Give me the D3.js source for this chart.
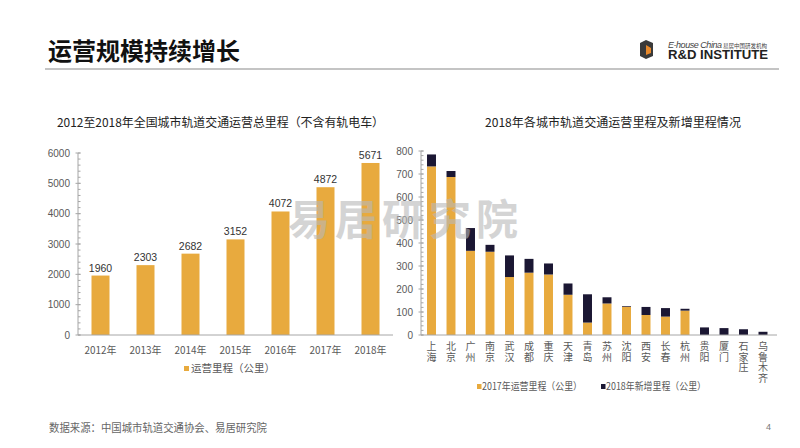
<!DOCTYPE html>
<html>
<head>
<meta charset="utf-8">
<script src="https://cdn.jsdelivr.net/npm/d3@7"></script>
<style>
  body { margin: 0; background: #fff; }
  text { font-family: "Liberation Sans", "Noto Sans CJK SC", sans-serif; }
  .cjk { font-family: "Noto Sans CJK SC", sans-serif; }
</style>
</head>
<body>
<div class="chart"></div>
<script>
// left chart data
var years = ["2012年", "2013年", "2014年", "2015年", "2016年", "2017年", "2018年"];
var totalKm = [1960, 2303, 2682, 3152, 4072, 4872, 5671];
var leftTicks = [0, 1000, 2000, 3000, 4000, 5000, 6000];

// right chart data
var cities = ["上海", "北京", "广州", "南京", "武汉", "成都", "重庆", "天津", "青岛",
  "苏州", "沈阳", "西安", "长春", "杭州", "贵阳", "厦门", "石家庄", "乌鲁木齐"];
var km2017 = [733, 687, 366, 362, 252, 271, 263, 175, 54, 137, 123, 87, 80, 106, 0, 0, 0, 0];
var kmNew2018 = [52, 26, 99, 30, 94, 60, 48, 49, 123, 27, 3, 35, 37, 8, 33, 30, 25, 14];
var rightTicks = [0, 100, 200, 300, 400, 500, 600, 700, 800];

var gold = "#e8aa3e";
var navy = "#1b1733";
var axisGray = "#a6a6a6";
var labelGray = "#595959";

var svg = d3.select(".chart")
  .append("svg")
  .attr("width", 800)
  .attr("height", 448);

// header
svg.append("text")
  .attr("class", "cjk")
  .attr("x", 48)
  .attr("y", 60)
  .attr("font-size", 24)
  .attr("font-weight", "bold")
  .attr("fill", "#111")
  .text("运营规模持续增长");

svg.append("line")
  .attr("x1", 45).attr("x2", 779)
  .attr("y1", 69).attr("y2", 69)
  .attr("stroke", "#b0b0b0")
  .attr("stroke-width", 1.5);

// logo
var logo = svg.append("g").attr("transform", "translate(640,40)");
logo.append("path")
  .attr("d", "M6,0 L13,3 L13,16 L6,19 L0,16 L0,3 Z")
  .attr("fill", "#3a3a3a");
logo.append("path")
  .attr("d", "M6,5 L11,8 L11,13 L6,15 Z")
  .attr("fill", "#e8892b");
logo.append("text")
  .attr("x", 28).attr("y", 8)
  .attr("font-size", 9)
  .attr("font-style", "italic")
  .attr("fill", "#444")
  .attr("textLength", 54)
  .text("E-house China");
logo.append("text")
  .attr("class", "cjk")
  .attr("x", 83).attr("y", 8)
  .attr("font-size", 5.5)
  .attr("fill", "#444")
  .text("易居中国研发机构");
logo.append("text")
  .attr("x", 28).attr("y", 19)
  .attr("font-size", 12)
  .attr("font-weight", "bold")
  .attr("fill", "#222")
  .attr("textLength", 100)
  .attr("lengthAdjust", "spacingAndGlyphs")
  .text("R&D INSTITUTE");

// subtitles
svg.append("text")
  .attr("class", "cjk")
  .attr("x", 57).attr("y", 127)
  .attr("font-size", 12)
  .attr("fill", "#222")
  .attr("textLength", 327)
  .attr("lengthAdjust", "spacingAndGlyphs")
  .text("2012至2018年全国城市轨道交通运营总里程（不含有轨电车）");

svg.append("text")
  .attr("class", "cjk")
  .attr("x", 485).attr("y", 127)
  .attr("font-size", 12)
  .attr("fill", "#222")
  .attr("textLength", 256)
  .attr("lengthAdjust", "spacingAndGlyphs")
  .text("2018年各城市轨道交通运营里程及新增里程情况");

// helper: y axis with minor ticks
function drawYAxis(g, yScale, ticks, x0) {
  var step = ticks[1] - ticks[0];
  var minor = d3.range(ticks[0], ticks[ticks.length - 1] + 1, step / 5);
  g.append("line")
    .attr("x1", x0).attr("x2", x0)
    .attr("y1", yScale(ticks[0])).attr("y2", yScale(ticks[ticks.length - 1]))
    .attr("stroke", axisGray);
  g.selectAll(".minor")
    .data(minor)
    .enter().append("line")
    .attr("x1", x0).attr("x2", x0 + 2.5)
    .attr("y1", d => yScale(d)).attr("y2", d => yScale(d))
    .attr("stroke", axisGray);
  g.selectAll(".major")
    .data(ticks)
    .enter().append("line")
    .attr("x1", x0 - 2.5).attr("x2", x0 + 2.5)
    .attr("y1", d => yScale(d)).attr("y2", d => yScale(d))
    .attr("stroke", axisGray);
  g.selectAll(".tlabel")
    .data(ticks)
    .enter().append("text")
    .attr("x", x0 - 8)
    .attr("y", d => yScale(d) + 3.5)
    .attr("text-anchor", "end")
    .attr("font-size", 10)
    .attr("fill", labelGray)
    .text(d => d);
}

// ---- left chart ----
var xLeft = d3.scaleBand()
  .domain(years)
  .range([78, 393])
  .paddingInner(0.6)
  .paddingOuter(0.3);

var yLeft = d3.scaleLinear()
  .domain([0, 6000])
  .range([335, 153]);

var leftG = svg.append("g");

leftG.selectAll(".bar")
  .data(years)
  .enter().append("rect")
  .attr("x", d => xLeft(d))
  .attr("y", (d, i) => yLeft(totalKm[i]))
  .attr("width", xLeft.bandwidth())
  .attr("height", (d, i) => yLeft(0) - yLeft(totalKm[i]))
  .attr("fill", gold);

leftG.selectAll(".val")
  .data(years)
  .enter().append("text")
  .attr("x", d => xLeft(d) + xLeft.bandwidth() / 2)
  .attr("y", (d, i) => yLeft(totalKm[i]) - 4)
  .attr("text-anchor", "middle")
  .attr("font-size", 10.5)
  .attr("fill", "#333")
  .text((d, i) => totalKm[i]);

leftG.append("line")
  .attr("x1", 78).attr("x2", 393)
  .attr("y1", yLeft(0)).attr("y2", yLeft(0))
  .attr("stroke", axisGray);

drawYAxis(leftG, yLeft, leftTicks, 78);

leftG.selectAll(".xl")
  .data(years)
  .enter().append("text")
  .attr("class", "cjk")
  .attr("x", d => xLeft(d) + xLeft.bandwidth() / 2)
  .attr("y", 354)
  .attr("text-anchor", "middle")
  .attr("font-size", 10.5)
  .attr("fill", labelGray)
  .attr("textLength", 32)
  .attr("lengthAdjust", "spacingAndGlyphs")
  .text(d => d);

leftG.append("rect")
  .attr("x", 184).attr("y", 366)
  .attr("width", 5).attr("height", 5)
  .attr("fill", gold);
leftG.append("text")
  .attr("class", "cjk")
  .attr("x", 191).attr("y", 372)
  .attr("font-size", 10.5)
  .attr("fill", labelGray)
  .text("运营里程（公里）");

// ---- right chart ----
var xRight = d3.scaleBand()
  .domain(cities)
  .range([421.75, 772.75])
  .paddingInner(0.54)
  .paddingOuter(0.27);

var yRight = d3.scaleLinear()
  .domain([0, 800])
  .range([335, 151]);

var rightG = svg.append("g");

rightG.selectAll(".b17")
  .data(cities)
  .enter().append("rect")
  .attr("x", d => xRight(d))
  .attr("y", (d, i) => yRight(km2017[i]))
  .attr("width", xRight.bandwidth())
  .attr("height", (d, i) => yRight(0) - yRight(km2017[i]))
  .attr("fill", gold);

rightG.selectAll(".b18")
  .data(cities)
  .enter().append("rect")
  .attr("x", d => xRight(d))
  .attr("y", (d, i) => yRight(km2017[i] + kmNew2018[i]))
  .attr("width", xRight.bandwidth())
  .attr("height", (d, i) => yRight(km2017[i]) - yRight(km2017[i] + kmNew2018[i]))
  .attr("fill", navy);

rightG.append("line")
  .attr("x1", 421).attr("x2", 777)
  .attr("y1", yRight(0)).attr("y2", yRight(0))
  .attr("stroke", axisGray);

drawYAxis(rightG, yRight, rightTicks, 421);

// vertical city labels, one character per line
rightG.selectAll(".city")
  .data(cities)
  .enter().append("text")
  .attr("class", "cjk")
  .attr("font-size", 10)
  .attr("fill", labelGray)
  .attr("text-anchor", "middle")
  .each(function(d) {
    var cx = xRight(d) + xRight.bandwidth() / 2;
    var t = d3.select(this);
    d.split("").forEach(function(ch, k) {
      t.append("tspan")
        .attr("x", cx)
        .attr("y", 350 + k * 10.5)
        .text(ch);
    });
  });

rightG.append("rect")
  .attr("x", 477).attr("y", 384)
  .attr("width", 4.5).attr("height", 5)
  .attr("fill", gold);
rightG.append("text")
  .attr("class", "cjk")
  .attr("x", 482).attr("y", 390)
  .attr("font-size", 10)
  .attr("fill", labelGray)
  .attr("textLength", 100)
  .attr("lengthAdjust", "spacingAndGlyphs")
  .text("2017年运营里程（公里）");

rightG.append("rect")
  .attr("x", 601).attr("y", 384)
  .attr("width", 4.5).attr("height", 5)
  .attr("fill", navy);
rightG.append("text")
  .attr("class", "cjk")
  .attr("x", 606).attr("y", 390)
  .attr("font-size", 10)
  .attr("fill", labelGray)
  .attr("textLength", 100)
  .attr("lengthAdjust", "spacingAndGlyphs")
  .text("2018年新增里程（公里）");

// watermark, drawn over the charts like the original
svg.append("text")
  .attr("class", "cjk")
  .attr("x", 403).attr("y", 235)
  .attr("text-anchor", "middle")
  .attr("font-size", 42)
  .attr("font-weight", "bold")
  .attr("fill", "#b8b8b8")
  .attr("opacity", 0.6)
  .attr("textLength", 230)
  .text("易居研究院");

// footer
svg.append("text")
  .attr("class", "cjk")
  .attr("x", 49).attr("y", 432)
  .attr("font-size", 11)
  .attr("fill", "#666")
  .attr("textLength", 218)
  .attr("lengthAdjust", "spacingAndGlyphs")
  .text("数据来源：中国城市轨道交通协会、易居研究院");

svg.append("text")
  .attr("x", 766).attr("y", 430)
  .attr("font-size", 9)
  .attr("fill", "#777")
  .text("4");
</script>
</body>
</html>
